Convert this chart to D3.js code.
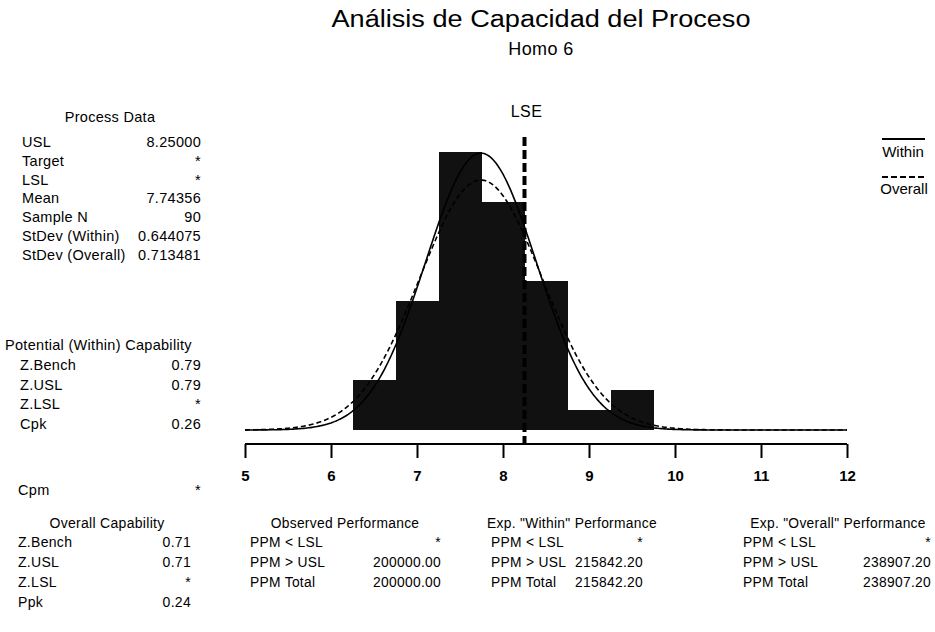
<!DOCTYPE html>
<html><head><meta charset="utf-8">
<script src="https://cdn.jsdelivr.net/npm/d3@7"></script>
<style>body{margin:0;background:#fff}svg{display:block}text{font-family:"Liberation Sans",Arial,sans-serif;fill:#000}</style>
</head><body><svg id="c" width="935" height="632"></svg>
<script>
// ---- data ----
const binEdges = [6.25, 6.75, 7.25, 7.75, 8.25, 8.75, 9.25, 9.75];
const binCounts = [5, 13, 28, 23, 15, 2, 4];
const xTicks = [5, 6, 7, 8, 9, 10, 11, 12];
const usl = 8.25;
const sampleN = 90;
const processMean = 7.74356;
const stdevWithin = 0.644075;
const stdevOverall = 0.713481;
const processDataRows = [["USL","8.25000"],["Target","*"],["LSL","*"],["Mean","7.74356"],["Sample N","90"],["StDev (Within)","0.644075"],["StDev (Overall)","0.713481"]];
const potentialRows = [["Z.Bench","0.79"],["Z.USL","0.79"],["Z.LSL","*"],["Cpk","0.26"]];
const overallRows = [["Z.Bench","0.71"],["Z.USL","0.71"],["Z.LSL","*"],["Ppk","0.24"]];
const observedRows = [["PPM < LSL","*"],["PPM > USL","200000.00"],["PPM Total","200000.00"]];
const expWithinRows = [["PPM < LSL","*"],["PPM > USL","215842.20"],["PPM Total","215842.20"]];
const expOverallRows = [["PPM < LSL","*"],["PPM > USL","238907.20"],["PPM Total","238907.20"]];

const svg = d3.select("#c");
const x = d3.scaleLinear().domain([5, 12]).range([245, 847]);
const y = d3.scaleLinear().domain([0, 30]).range([430, 132]);
const binW = binEdges[1] - binEdges[0];

// titles
svg.append("text").attr("x", 541).attr("y", 27).attr("text-anchor","middle").style("font-size","23px")
  .attr("textLength", 419).attr("lengthAdjust","spacingAndGlyphs").text("Análisis de Capacidad del Proceso");
svg.append("text").attr("x", 541).attr("y", 55).attr("text-anchor","middle").style("font-size","18px").style("letter-spacing","0.4px").text("Homo 6");
svg.append("text").attr("x", x(usl)+2).attr("y", 117).attr("text-anchor","middle").style("font-size","16px").style("letter-spacing","0.4px").text("LSE");

// bars
svg.append("g").attr("shape-rendering","crispEdges").selectAll("rect").data(binCounts).join("rect")
  .attr("x", (d,i)=>x(binEdges[i]))
  .attr("width", (d,i)=>x(binEdges[i+1])-x(binEdges[i])+0.5)
  .attr("y", d=>y(d)).attr("height", d=>y(0)-y(d))
  .attr("fill","#111");

// normal curves
function curve(sd){
  return d3.range(5, 12.0001, 0.02).map(v=>{
    const z=(v-processMean)/sd;
    return [v, sampleN*binW*Math.exp(-0.5*z*z)/(sd*Math.sqrt(2*Math.PI))];
  });
}
const line = d3.line().x(d=>x(d[0])).y(d=>y(d[1]));
svg.append("path").attr("d", line(curve(stdevWithin))).attr("fill","none").attr("stroke","#000").attr("stroke-width",1.6);
svg.append("path").attr("d", line(curve(stdevOverall))).attr("fill","none").attr("stroke","#000").attr("stroke-width",1.6).attr("stroke-dasharray","5,3");

// USL line
svg.append("line").attr("x1",x(usl)).attr("x2",x(usl)).attr("y1",137).attr("y2",443)
  .attr("stroke","#000").attr("stroke-width",4).attr("stroke-dasharray","9,4");

// axis
const axis = d3.axisBottom(x).tickValues(xTicks).tickFormat(d3.format("d")).tickSize(14).tickPadding(12);
const ag = svg.append("g").attr("transform","translate(0,444)").call(axis);
ag.select(".domain").attr("stroke","#000").attr("stroke-width",2).attr("d","M"+x(5)+",0H"+x(12));
ag.selectAll(".tick line").attr("stroke","#000").attr("stroke-width",2);
ag.selectAll(".tick text").style("font-size","15px").style("font-weight","bold").style("font-family",'"Liberation Sans",Arial,sans-serif').attr("fill","#000");

// legend
svg.append("line").attr("x1",882).attr("x2",925).attr("y1",139).attr("y2",139).attr("stroke","#000").attr("stroke-width",2);
svg.append("text").attr("x",903).attr("y",157).attr("text-anchor","middle").style("font-size","15px").text("Within");
svg.append("line").attr("x1",882).attr("x2",925).attr("y1",177).attr("y2",177).attr("stroke","#000").attr("stroke-width",2).attr("stroke-dasharray","6,3");
svg.append("text").attr("x",904).attr("y",194).attr("text-anchor","middle").style("font-size","15px").text("Overall");

// text tables
const LS = "0.3px";
function txt(xp, yp, anchor, s, fs){
  return svg.append("text").attr("x",xp).attr("y",yp).attr("text-anchor",anchor)
    .style("font-size",fs).style("letter-spacing",LS).text(s);
}
function block(title, tx, ty, anchor, rows, lx, vx, y0, dy, fs){
  txt(tx, ty, anchor, title, fs);
  rows.forEach((r,i)=>{
    txt(lx, y0+i*dy, "start", r[0], fs);
    txt(vx, y0+i*dy, "end", r[1], fs);
  });
}
block("Process Data", 110, 122, "middle", processDataRows, 22, 201, 147, 18.8, "14.5px");
block("Potential (Within) Capability", 5, 350, "start", potentialRows, 20, 201, 370, 19.6, "14.5px");
txt(18, 495, "start", "Cpm", "14.5px");
txt(201, 495, "end", "*", "14.5px");
block("Overall Capability", 107, 528, "middle", overallRows, 18, 191, 547, 20, "14px");
block("Observed Performance", 345, 528, "middle", observedRows, 250, 441, 547, 20, "13.8px");
block("Exp. \"Within\" Performance", 572, 528, "middle", expWithinRows, 491, 643, 547, 20, "13.8px");
block("Exp. \"Overall\" Performance", 838, 528, "middle", expOverallRows, 743, 931, 547, 20, "13.8px");
</script></body></html>
